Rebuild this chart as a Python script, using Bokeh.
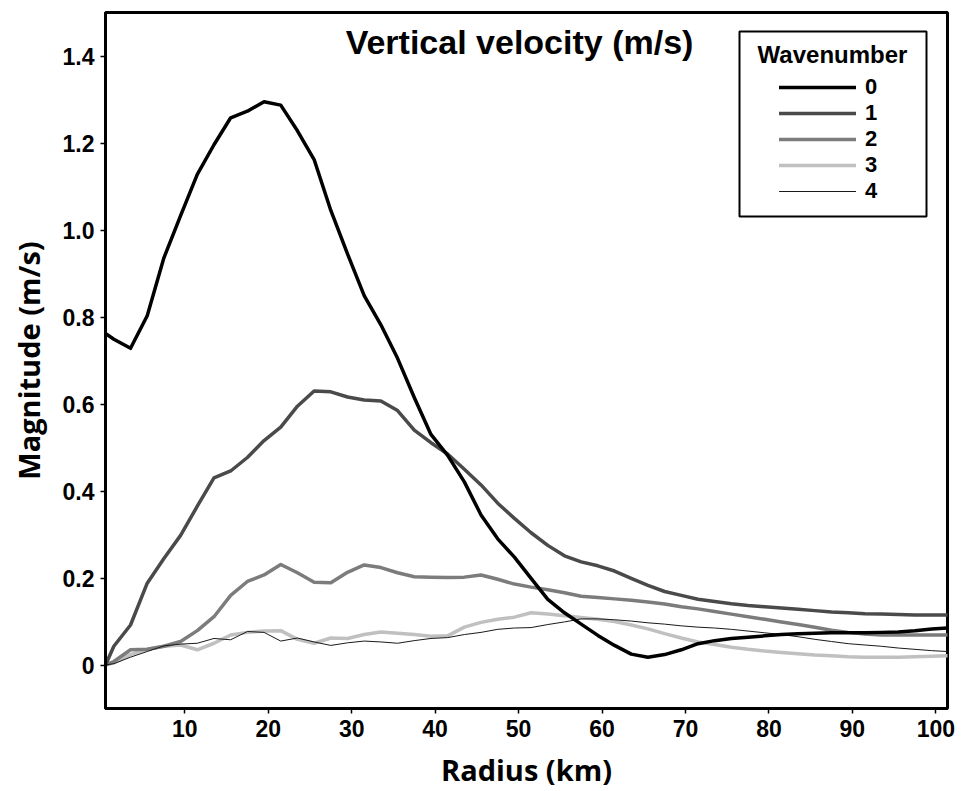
from bokeh.plotting import figure
from bokeh.models import Range1d, FixedTicker, Legend, LegendItem, Label, BoxAnnotation
from bokeh.embed import file_html
from bokeh.resources import INLINE

# ---- data ----
radius = [0.5, 1.5, 3.5, 5.5, 7.5, 9.5, 11.5, 13.5, 15.5, 17.5, 19.5, 21.5, 23.5, 25.5,
          27.5, 29.5, 31.5, 33.5, 35.5, 37.5, 39.5, 41.5, 43.5, 45.5, 47.5, 49.5, 51.5,
          53.5, 55.5, 57.5, 59.5, 61.5, 63.5, 65.5, 67.5, 69.5, 71.5, 73.5, 75.5, 77.5,
          79.5, 81.5, 83.5, 85.5, 87.5, 89.5, 91.5, 93.5, 95.5, 97.5, 99.5, 101.4]

wave0 = [0.762, 0.749, 0.728, 0.803, 0.936, 1.033, 1.128, 1.196, 1.258, 1.273, 1.295, 1.287,
         1.228, 1.162, 1.045, 0.945, 0.849, 0.782, 0.705, 0.615, 0.530, 0.482, 0.421, 0.345,
         0.290, 0.248, 0.199, 0.151, 0.120, 0.094, 0.068, 0.045, 0.025, 0.018, 0.024, 0.035,
         0.049, 0.056, 0.061, 0.064, 0.067, 0.070, 0.072, 0.073, 0.074, 0.074, 0.074, 0.075,
         0.076, 0.079, 0.083, 0.085]

wave1 = [0.0, 0.043, 0.092, 0.188, 0.245, 0.298, 0.365, 0.430, 0.446, 0.477, 0.516, 0.547,
         0.595, 0.630, 0.628, 0.616, 0.609, 0.607, 0.585, 0.540, 0.511, 0.485, 0.450, 0.414,
         0.372, 0.337, 0.304, 0.275, 0.251, 0.237, 0.228, 0.216, 0.199, 0.183, 0.169, 0.160,
         0.151, 0.146, 0.141, 0.137, 0.134, 0.131, 0.128, 0.125, 0.122, 0.120, 0.118, 0.117,
         0.116, 0.115, 0.115, 0.115]

wave2 = [0.0, 0.008, 0.035, 0.036, 0.043, 0.054, 0.079, 0.111, 0.160, 0.192, 0.207, 0.231,
         0.212, 0.190, 0.189, 0.213, 0.230, 0.224, 0.212, 0.203, 0.202, 0.201, 0.202, 0.207,
         0.197, 0.186, 0.179, 0.173, 0.166, 0.158, 0.155, 0.152, 0.149, 0.145, 0.140, 0.134,
         0.129, 0.123, 0.117, 0.111, 0.105, 0.099, 0.093, 0.087, 0.080, 0.075, 0.071, 0.069,
         0.069, 0.069, 0.069, 0.069]

wave3 = [0.0, 0.005, 0.024, 0.036, 0.043, 0.046, 0.035, 0.050, 0.069, 0.075, 0.078, 0.079,
         0.059, 0.050, 0.062, 0.061, 0.070, 0.076, 0.073, 0.070, 0.066, 0.067, 0.087, 0.098,
         0.105, 0.110, 0.120, 0.117, 0.113, 0.109, 0.105, 0.100, 0.092, 0.083, 0.072, 0.062,
         0.053, 0.047, 0.041, 0.036, 0.032, 0.029, 0.026, 0.023, 0.021, 0.019, 0.018, 0.018,
         0.018, 0.019, 0.020, 0.021]

wave4 = [0.0, 0.003, 0.018, 0.031, 0.044, 0.048, 0.050, 0.061, 0.058, 0.077, 0.075, 0.055,
         0.062, 0.053, 0.045, 0.051, 0.055, 0.053, 0.050, 0.056, 0.061, 0.063, 0.070, 0.075,
         0.082, 0.085, 0.086, 0.093, 0.099, 0.106, 0.106, 0.104, 0.101, 0.097, 0.094, 0.090,
         0.087, 0.085, 0.082, 0.078, 0.074, 0.070, 0.065, 0.059, 0.054, 0.049, 0.046, 0.043,
         0.039, 0.036, 0.033, 0.031]

wavenumbers = ["0", "1", "2", "3", "4"]
x_ticks = [10, 20, 30, 40, 50, 60, 70, 80, 90, 100]
y_ticks = [0, 0.2, 0.4, 0.6, 0.8, 1.0, 1.2, 1.4]
y_tick_labels = ["0", "0.2", "0.4", "0.6", "0.8", "1.0", "1.2", "1.4"]

# ---- styles ----
colors = ["#000000", "#4a4a4a", "#7c7c7c", "#c0c0c0", "#1a1a1a"]
widths = [3.5, 3.5, 3.5, 3.5, 1.0]
TICK_FONT = "Liberation Sans"
LABEL_FONT = "Open Sans"

p = figure(width=962, height=791, output_backend="svg", toolbar_location=None,
           x_range=Range1d(0.5, 101.4), y_range=Range1d(-0.1, 1.5),
           min_border_left=105, min_border_right=15, min_border_top=12, min_border_bottom=82)

p.background_fill_color = "white"
p.border_fill_color = "white"
p.outline_line_color = "black"
p.outline_line_width = 3
p.outline_line_alpha = 1.0
p.xgrid.visible = False
p.ygrid.visible = False

for ax in (p.xaxis[0], p.yaxis[0]):
    ax.axis_line_color = "black"
    ax.axis_line_width = 3
    ax.major_tick_line_color = "black"
    ax.major_tick_line_width = 1.5
    ax.major_tick_in = 0
    ax.major_tick_out = 5
    ax.minor_tick_line_color = None
    ax.major_label_text_font = TICK_FONT
    ax.major_label_text_font_style = "bold"
    ax.major_label_text_font_size = "23px"
    ax.major_label_text_color = "black"
    ax.major_label_standoff = 6
    ax.axis_label_text_font = LABEL_FONT
    ax.axis_label_text_font_style = "bold"
    ax.axis_label_text_font_size = "29px"
    ax.axis_label_text_color = "black"

p.xaxis.ticker = FixedTicker(ticks=x_ticks)
p.yaxis.ticker = FixedTicker(ticks=y_ticks)
p.yaxis.major_label_overrides = {t: l for t, l in zip(y_ticks, y_tick_labels)}
p.xaxis.axis_label = "Radius (km)"
p.yaxis.axis_label = "Magnitude (m/s)"
p.xaxis.axis_label_standoff = 10
p.yaxis.axis_label_standoff = 12

series = [wave0, wave1, wave2, wave3, wave4]
renderers = {}
for i in [3, 2, 1, 4, 0]:
    renderers[i] = p.line(radius, series[i], line_color=colors[i], line_width=widths[i],
                          line_join="round", line_cap="round")

# title inside the frame
p.add_layout(Label(x=414, y=667, x_units="screen", y_units="screen",
                   text="Vertical velocity (m/s)", text_font=TICK_FONT,
                   text_font_style="bold", text_font_size="34px", text_color="black",
                   text_align="center", text_baseline="middle"))

# legend box and title
p.add_layout(BoxAnnotation(left=634, right=821, bottom=492, top=677,
                           left_units="screen", right_units="screen",
                           top_units="screen", bottom_units="screen",
                           fill_color="white", fill_alpha=1.0,
                           line_color="black", line_alpha=1.0, line_width=2))
p.add_layout(Label(x=727, y=654, x_units="screen", y_units="screen",
                   text="Wavenumber", text_font=TICK_FONT, text_font_style="bold",
                   text_font_size="24px", text_color="black",
                   text_align="center", text_baseline="middle"))

legend = Legend(items=[LegendItem(label=wavenumbers[i], renderers=[renderers[i]]) for i in range(5)],
                location=(674, 504), orientation="vertical",
                glyph_width=77, glyph_height=20, label_height=20, label_standoff=9,
                spacing=0, padding=0, margin=0,
                label_text_font=TICK_FONT, label_text_font_style="bold",
                label_text_font_size="22px", label_text_color="black",
                border_line_alpha=0, background_fill_alpha=0)
p.add_layout(legend)

open("out.html", "w").write(file_html(p, INLINE))
